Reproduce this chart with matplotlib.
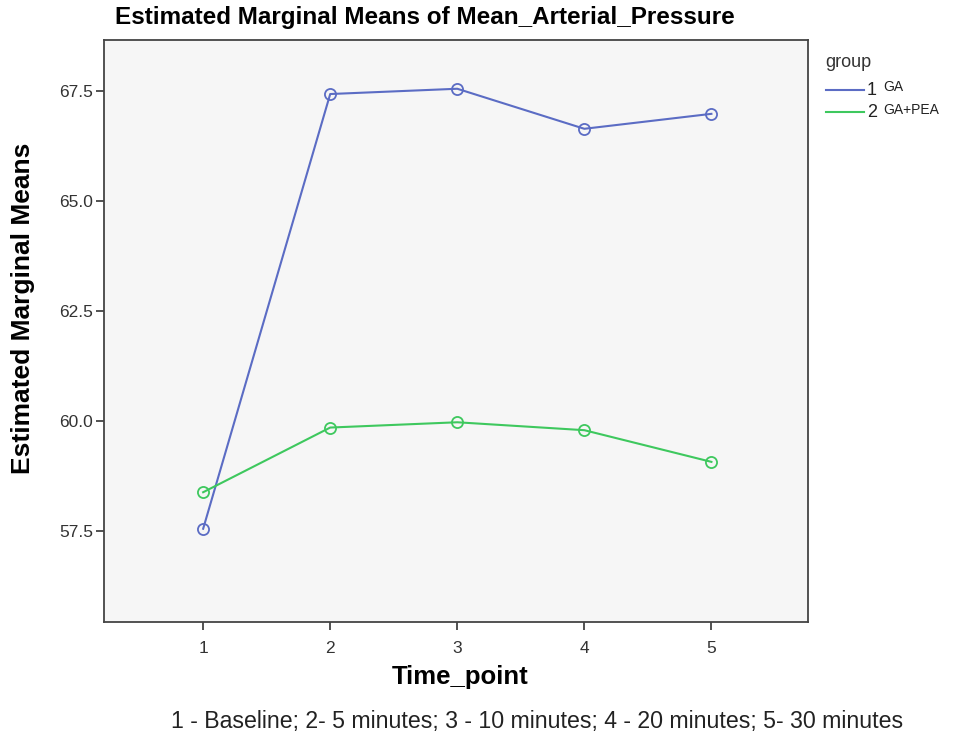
import matplotlib.pyplot as plt
from matplotlib.lines import Line2D

plt.rcParams['font.family'] = ['Liberation Sans', 'DejaVu Sans']

time_points = [1, 2, 3, 4, 5]
ga_means = [57.55, 67.43, 67.55, 66.64, 66.98]
ga_pea_means = [58.38, 59.85, 59.97, 59.79, 59.07]
group_codes = ['1', '2']
group_names = ['GA', 'GA+PEA']
y_ticks = [57.5, 60.0, 62.5, 65.0, 67.5]

blue = '#5b6cc4'
green = '#3ec85e'

fig = plt.figure(figsize=(9.58, 7.35), dpi=100)
ax = fig.add_axes([0.1086, 0.1537, 0.7348, 0.792])
ax.set_facecolor('#f6f6f6')

ax.plot(time_points, ga_means, color=blue, lw=1.5, marker='o', ms=8,
        mfc='none', mec=blue, mew=1.3)
ax.plot(time_points, ga_pea_means, color=green, lw=1.5, marker='o', ms=8,
        mfc='none', mec=green, mew=1.3)

ax.set_xlim(0.22, 5.76)
ax.set_ylim(55.43, 68.66)
ax.set_xticks(time_points)
ax.set_yticks(y_ticks)
ax.set_yticklabels(['%.1f' % v for v in y_ticks])
ax.tick_params(axis='both', labelsize=12.5, labelcolor='#333333', color='#333333',
               length=6, width=1.2)
ax.tick_params(axis='x', pad=8)
ax.tick_params(axis='y', pad=2)
for s in ax.spines.values():
    s.set_color('#444444')
    s.set_linewidth(1.3)

fig.text(0.48, 0.079, 'Time_point', ha='center', va='center',
         fontsize=18.5, fontweight='bold')
fig.text(0.024, 0.58, 'Estimated Marginal Means', ha='center', va='center',
         rotation=90, fontsize=19, fontweight='bold')
fig.text(0.444, 0.976, 'Estimated Marginal Means of Mean_Arterial_Pressure',
         ha='center', va='center', fontsize=17.5, fontweight='bold')
fig.text(0.561, 0.018, '1 - Baseline; 2- 5 minutes; 3 - 10 minutes; 4 - 20 minutes; 5- 30 minutes',
         ha='center', va='center', fontsize=16.7, color='#222222')

# legend drawn by hand to get the SPSS look
fig.text(0.861, 0.915, 'group', fontsize=13, color='#333333', va='center')
for i, (code, name, c) in enumerate(zip(group_codes, group_names, [blue, green])):
    yy = 0.877 - i * 0.030
    fig.add_artist(Line2D([0.862, 0.902], [yy, yy], color=c, lw=1.5,
                          transform=fig.transFigure))
    fig.text(0.905, yy, code, fontsize=13, va='center', color='#222222')
    fig.text(0.922, yy + 0.004, name, fontsize=10, va='center', color='#222222')

fig.savefig('out.png', dpi=100)
